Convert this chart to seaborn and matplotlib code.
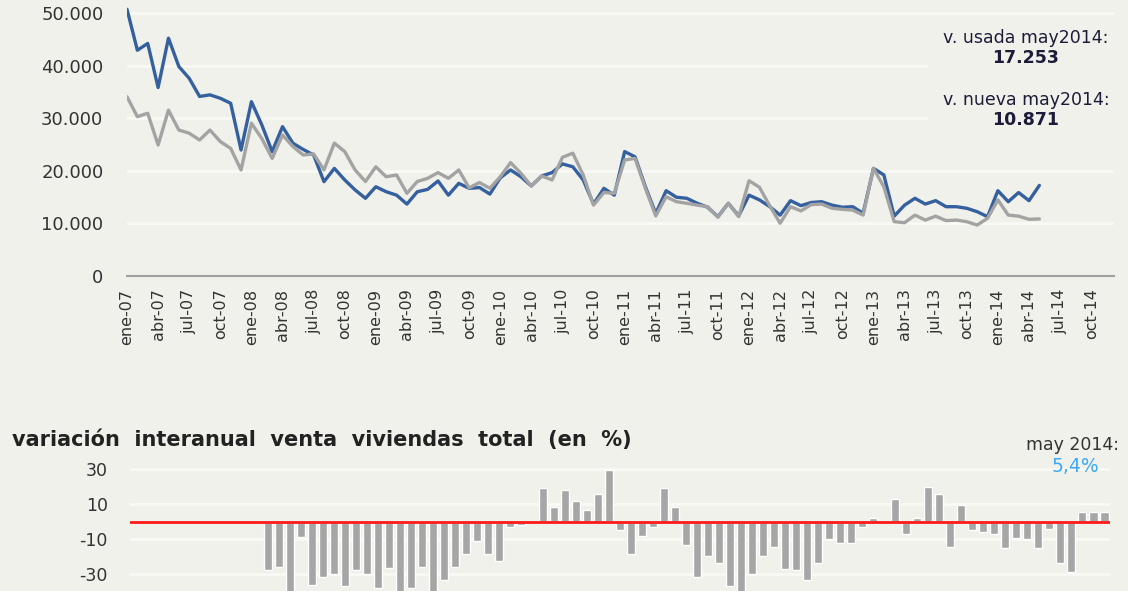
import numpy as np
import pandas as pd
import seaborn as sns
import matplotlib.pyplot as plt
from matplotlib.patches import Rectangle

meses = ["ene", "feb", "mar", "abr", "may", "jun", "jul", "ago", "sep", "oct", "nov", "dic"]
etiquetas = [f"{m}-{a:02d}" for a in range(7, 15) for m in meses]  # ene-07 .. dic-14

# venta vivienda usada / nueva, ene-07 .. may-14
usada = [50800, 43000, 44300, 35900, 45300, 39900, 37650, 34200, 34500, 33850, 32900, 24000,
         33200, 28800, 23700, 28450, 25300, 24100, 23050, 17970, 20500, 18300, 16400, 14800,
         17000, 16050, 15400, 13700, 16050, 16500, 18100, 15400, 17650, 16700, 16850, 15600,
         18700, 20200, 18900, 17150, 19050, 19700, 21350, 20800, 18300, 13700, 16700, 15400,
         23700, 22700, 17000, 11900, 16250, 15000, 14800, 13850, 13100, 11300, 13850, 11450,
         15400, 14500, 13200, 11600, 14350, 13400, 14000, 14150, 13500, 13100, 13200, 11950,
         20500, 19250, 11400, 13500, 14800, 13700, 14350, 13200, 13200, 12900, 12250, 11300,
         16250, 14150, 15900, 14350, 17253]
nueva = [34150, 30350, 31000, 24950, 31600, 27800, 27200, 25900, 27800, 25600, 24300, 20200,
         29100, 26200, 22400, 26850, 24650, 23050, 23250, 20200, 25300, 23700, 20200, 18000,
         20800, 18900, 19250, 15750, 18000, 18600, 19700, 18600, 20200, 16800, 17800, 16700,
         18900, 21600, 19550, 17150, 19050, 18300, 22600, 23400, 19250, 13500, 15900, 15750,
         22100, 22400, 16700, 11450, 15100, 14150, 13850, 13500, 13200, 11200, 13850, 11300,
         18150, 16900, 13350, 10050, 13200, 12400, 13600, 13700, 12900, 12700, 12550, 11600,
         20500, 17000, 10350, 10150, 11600, 10650, 11400, 10550, 10650, 10350, 9700, 11000,
         14500, 11600, 11400, 10800, 10871]

# variacion interanual venta total (%), ene-08 .. may-14
variacion = [-27.8, -25.6, -44, -8.9, -36, -31.8, -29.7, -36.9, -27.8, -29.7, -38, -26.5,
             -42, -38, -25.6, -41, -33, -25.6, -18.4, -11, -18.4, -22.3, -2.8, -1.7,
             0, 18.9, 8.3, 17.8, 11.6, 6.4, 15.7, 29.2, -4.7, -18.4, -8, -2.8,
             18.9, 8.3, -13.1, -31.8, -19.3, -23.7, -36.9, -42, -29.7, -19.3, -14.6, -26.7,
             -27.7, -33, -23.7, -10, -12.1, -12.1, -2.8, 2.3, 0, 12.7, -7, 2.3,
             19.9, 15.9, -14.2, 9.5, -4.9, -5.9, -7, -15.3, -9.1, -10, -15.3, -4,
             -23.7, -28.8, 5.2, 5.3, 5.4]

bg = "#f1f1eb"
grid = "#f9f9f5"
sns.set_style("white", {"axes.facecolor": bg, "figure.facecolor": bg})
plt.rcParams["font.family"] = ["DejaVu Sans"]
plt.rcParams["axes.unicode_minus"] = False
txt = "#333333"

W, H = 1128, 591
fig = plt.figure(figsize=(W / 100, H / 100), dpi=100)

# --- panel superior: lineas
ax1 = fig.add_axes([127 / W, 1 - 276 / H, (1114 - 127) / W, 274 / H])
df = pd.DataFrame({"mes": range(len(usada)), "usada": usada, "nueva": nueva})
sns.lineplot(data=df, x="mes", y="usada", color="#35609f", lw=2.4, ax=ax1)
sns.lineplot(data=df, x="mes", y="nueva", color="#a3a3a3", lw=2.4, ax=ax1)
ax1.set_xlim(0, 95.2)
ax1.set_ylim(0, 52190)
ax1.set_yticks(range(0, 50001, 10000))
ax1.set_yticklabels([f"{v:,}".replace(",", ".") for v in range(0, 50001, 10000)])
ax1.set_xticks(range(0, 94, 3))
ax1.set_xticklabels(etiquetas[0:94:3])
ax1.yaxis.grid(True, color=grid, lw=2)
ax1.set_axisbelow(True)
for s in ["left", "top", "right"]:
    ax1.spines[s].set_visible(False)
ax1.spines["bottom"].set_color("#a0a0a0")
ax1.spines["bottom"].set_linewidth(1.5)
ax1.tick_params(axis="x", direction="in", length=5, width=1.2, color="#a0a0a0",
                labelrotation=90, labelsize=11.5, labelcolor=txt, pad=9)
ax1.tick_params(axis="y", length=0, labelsize=13, labelcolor=txt, pad=17)
ax1.set_xlabel("")
ax1.set_ylabel("")

# fondo tras las notas (corta las lineas de rejilla)
ax1.add_patch(Rectangle((928 / W, 1 - 132 / H), 200 / W, 110 / H, transform=fig.transFigure,
                        facecolor=bg, edgecolor="none", zorder=1.5, clip_on=False))
nota = dict(ha="center", va="center", fontsize=12.5, color="#1c1c3a")
fig.text(1026 / W, 1 - 38 / H, "v. usada may2014:", **nota)
fig.text(1026 / W, 1 - 58 / H, "17.253", fontweight="bold", **nota)
fig.text(1026 / W, 1 - 100 / H, "v. nueva may2014:", **nota)
fig.text(1026 / W, 1 - 120 / H, "10.871", fontweight="bold", **nota)

# --- panel inferior: barras
ax2 = fig.add_axes([130 / W, 0, 980 / W, 136 / H])
df2 = pd.DataFrame({"pos": range(12, 12 + len(variacion)), "var": variacion})
sns.barplot(data=df2, x="pos", y="var", native_scale=True, color="#a6a6a6",
            saturation=1, width=0.73, errorbar=None, ax=ax2)
ax2.axhline(0, color="#ff1a1a", lw=2)
ax2.set_xlim(-0.5, 88.5)
ax2.set_ylim(-39.5, 37.9)
ax2.set_yticks([30, 10, -10, -30])
ax2.yaxis.grid(True, color=grid, lw=2)
ax2.set_axisbelow(True)
ax2.set_xticks([])
for s in ax2.spines.values():
    s.set_visible(False)
ax2.tick_params(axis="y", length=0, labelsize=12.5, labelcolor=txt, pad=16)
ax2.set_xlabel("")
ax2.set_ylabel("")

fig.text(12 / W, 1 - 440 / H, "variación  interanual  venta  viviendas  total  (en  %)",
         fontweight="bold", fontsize=15, va="center", color="#222222")
fig.text(1073 / W, 1 - 445 / H, "may 2014:", ha="center", va="center",
         fontsize=12.5, color=txt)
fig.text(1075 / W, 1 - 467 / H, "5,4%", ha="center", va="center",
         fontsize=13.5, color="#3fa9f5")

fig.savefig("out.png", dpi=100, facecolor=bg)
